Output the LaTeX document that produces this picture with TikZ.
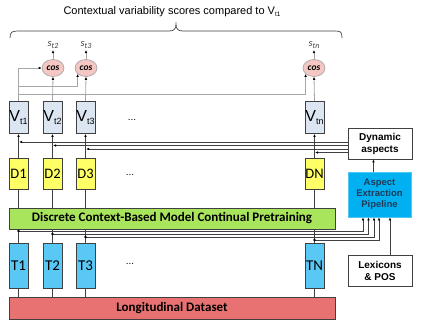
\documentclass[tikz,border=0pt]{standalone}
\usepackage{fontspec}
\setmainfont{Liberation Sans}
\newfontfamily\carl{Carlito}
\usetikzlibrary{arrows.meta,shapes.geometric,calc}
\definecolor{dk}{HTML}{404040}
\definecolor{gl}{HTML}{A6A6A6}
\definecolor{vfill}{HTML}{DCE6F2}
\definecolor{dfill}{HTML}{FFFF66}
\definecolor{tfill}{HTML}{5AC8F5}
\definecolor{gfill}{HTML}{A8E45C}
\definecolor{rfill}{HTML}{E87272}
\definecolor{cosf}{HTML}{F4C7C3}
\definecolor{cosd}{HTML}{A0A0A0}
\definecolor{pfill}{HTML}{00B0F0}
\definecolor{pdraw}{HTML}{4FC8F5}
\definecolor{ptext}{HTML}{1F3B5A}
\begin{document}
\begin{tikzpicture}[x=1pt,y=-1pt,
  box/.style={draw=dk, line width=0.8pt, inner sep=0pt},
  vbox/.style={box, fill=vfill, minimum width=19pt, minimum height=32pt, font=\fontsize{16}{16}\selectfont},
  dbox/.style={box, fill=dfill, minimum width=19pt, minimum height=31pt, font=\carl\fontsize{14.5}{15}\selectfont},
  tbox/.style={box, fill=tfill, minimum width=19pt, minimum height=45pt, font=\carl\fontsize{15}{15}\selectfont},
  bar/.style={box, minimum width=326pt, font=\carl\bfseries\fontsize{13}{14}\selectfont},
  sidebox/.style={box, fill=white, minimum width=64pt, minimum height=31pt, align=center, font=\bfseries\fontsize{10}{12}\selectfont},
  cosn/.style={ellipse, draw=cosd, line width=0.6pt, fill=cosf, minimum width=22pt, minimum height=17pt, inner sep=0pt, font=\carl\bfseries\itshape\fontsize{9.5}{10}\selectfont},
  slab/.style={inner sep=1pt, text=dk, font=\carl\itshape\fontsize{10.5}{10}\selectfont},
  gline/.style={draw=gl, line width=0.8pt},
  link/.style={draw=dk, line width=0.7pt},
  arr/.style={-{Latex[length=3pt,width=2.6pt,color=black]}},
  dots/.style={font=\fontsize{10}{10}\selectfont}
]
\useasboundingbox (0,0) rectangle (423,327);

% title and brace
\node[font=\fontsize{11}{12}\selectfont] (title) at (172,12) {Contextual variability scores compared to V\raisebox{-1.5pt}{\fontsize{6.5}{6.5}\selectfont t1}};
\draw[dk, line width=0.7pt] (10,38) .. controls (10,32) and (12,31) .. (18,31) -- (169,31)
  .. controls (174,31) and (176,29) .. (176,24) .. controls (176,29) and (178,31) .. (183,31)
  -- (335,31) .. controls (341,31) and (342,32) .. (342,38);

% cos nodes and labels
\node[cosn] (c2) at (53,68) {cos};
\node[cosn] (c3) at (86,68) {cos};
\node[cosn] (cn) at (314,68) {cos};
\node[slab] (s2) at (53,45) {s\raisebox{-2.5pt}{\fontsize{8}{8}\selectfont t2}};
\node[slab] (s3) at (86,45) {s\raisebox{-2.5pt}{\fontsize{8}{8}\selectfont t3}};
\node[slab] (sn) at (314,45) {s\raisebox{-2.5pt}{\fontsize{8}{8}\selectfont tn}};

% V boxes
\node[vbox] (V1) at (18.5,117.5) {V\raisebox{-3pt}{\fontsize{9}{9}\selectfont t1}};
\node[vbox] (V2) at (52.5,117.5) {V\raisebox{-3pt}{\fontsize{9}{9}\selectfont t2}};
\node[vbox] (V3) at (85.5,117.5) {V\raisebox{-3pt}{\fontsize{9}{9}\selectfont t3}};
\node[vbox] (Vn) at (314.5,117.5) {V\raisebox{-3pt}{\fontsize{9}{9}\selectfont tn}};
\node[dots] (dv) at (132,120) {...};

% D boxes
\node[dbox] (D1) at (18.5,173.5) {\raisebox{-3pt}{D1}};
\node[dbox] (D2) at (52.5,173.5) {\raisebox{-3pt}{D2}};
\node[dbox] (D3) at (85.5,173.5) {\raisebox{-3pt}{D3}};
\node[dbox] (Dn) at (314.5,173.5) {\raisebox{-3pt}{DN}};
\node[dots] (dd) at (130,175) {...};

% bars
\node[bar, fill=gfill, minimum height=21pt] (G) at (172,218.5) {Discrete Context-Based Model Continual Pretraining};
\node[bar, fill=rfill, minimum height=22pt] (R) at (172,308) {Longitudinal Dataset};

% T boxes
\node[tbox] (T1) at (18.5,265.5) {\raisebox{-1.5pt}{T1}};
\node[tbox] (T2) at (52.5,265.5) {\raisebox{-1.5pt}{T2}};
\node[tbox] (T3) at (85.5,265.5) {\raisebox{-1.5pt}{T3}};
\node[tbox] (Tn) at (314.5,265.5) {\raisebox{-1.5pt}{TN}};
\node[dots] (dt) at (130,264) {...};

% side boxes
\node[sidebox] (Dyn) at (380,143.5) {Dynamic\\aspects};
\node[box, draw=pdraw, fill=pfill, minimum width=63pt, minimum height=45pt, align=center, text=ptext, font=\bfseries\fontsize{9.5}{11}\selectfont] (P) at (379.5,194.5) {Aspect\\Extraction\\Pipeline};
\node[sidebox] (L) at (380,270.5) {Lexicons\\\& POS};

% helper levels
\coordinate (y86) at (0,86);
\coordinate (y94) at (0,94.5);
\coordinate (ya) at (0,142);
\coordinate (yb) at (0,145.5);
\coordinate (yc) at (0,149);
\coordinate (yd) at (0,152.5);
\coordinate (ta) at (0,231);
\coordinate (tb) at (0,234);
\coordinate (tc) at (0,237);
\coordinate (td) at (0,240);

% V -> cos (gray)
\draw[gline,arr] (V1.north) |- (c2.west);
\draw[gline,arr] (V1.north |- y86) -| (c3.215);
\draw[gline,arr] (V1.north |- y94) -| (cn.215);
\draw[gline,arr] (V2.north) -- (c2.south);
\draw[gline,arr] (V3.north) -- (c3.south);
\draw[gline,arr] (Vn.north) -- (cn.south);
\draw[gline,arr] (c2.north) -- (s2.south);
\draw[gline,arr] (c3.north) -- (s3.south);
\draw[gline,arr] (cn.north) -- (sn.south);

% D -> V, D -> bar, T -> bar, T -> dataset
\foreach \i in {1,2,3,n} {
  \draw[link,arr] (D\i.north) -- (V\i.south);
  \draw[link] (D\i.south) -- (D\i.south |- G.north);
  \draw[link] (T\i.north) -- (T\i.north |- G.south);
  \draw[link] (T\i.south) -- (T\i.south |- R.north);
}

% dynamic aspects -> columns
\draw[link,arr] (Dyn.west |- ya) -- ($(D1.north |- ya)+(0.6,0)$);
\draw[link,arr] (Dyn.west |- yb) -- ($(D2.north |- yb)+(0.6,0)$);
\draw[link,arr] (Dyn.west |- yc) -- ($(D3.north |- yc)+(0.6,0)$);
\draw[link,arr] (Dyn.west |- yd) -- ($(Dn.north |- yd)+(0.6,0)$);

% T columns -> pipeline
\coordinate (pa) at ($(P.south)+(-16.5,0)$);
\coordinate (pb) at ($(P.south)+(-11,0)$);
\coordinate (pc) at ($(P.south)+(-5.5,0)$);
\coordinate (pd) at ($(P.south)+(-0.5,0)$);
\draw[link,arr] (T1.north |- ta) -| (pa);
\draw[link,arr] (T2.north |- tb) -| (pb);
\draw[link,arr] (T3.north |- tc) -| (pc);
\draw[link,arr] (Tn.north |- td) -| (pd);
\fill[black] (T1.north |- ta) circle (1.3);
\fill[black] (T2.north |- tb) circle (1.3);
\fill[black] (T3.north |- tc) circle (1.3);
\fill[black] (Tn.north |- td) circle (1.3);

% lexicons -> pipeline -> dynamic
\draw[link,arr] ($(L.north)+(10,0)$) -- ($(L.north |- P.south)+(10,0)$);
\draw[link,arr] ($(P.north)+(-6,0)$) -- ($(P.north |- Dyn.south)+(-6,0)$);
\end{tikzpicture}
\end{document}
